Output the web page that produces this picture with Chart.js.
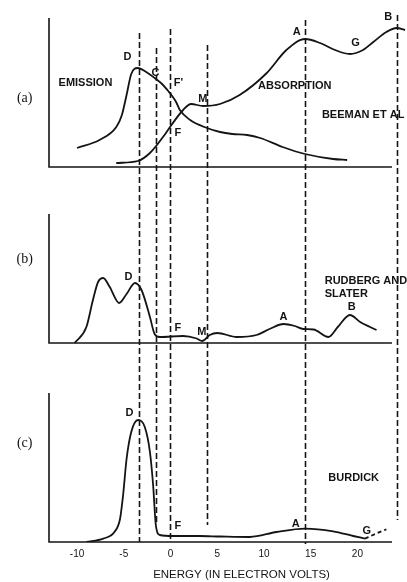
<!DOCTYPE html>
<html>
<head>
<meta charset="utf-8">
<script src="https://cdn.jsdelivr.net/npm/chart.js@4.4.1/dist/chart.umd.min.js"></script>
<style>
  html, body { margin: 0; padding: 0; background: #fff; }
</style>
</head>
<body>
<canvas id="myChart" width="407" height="582"></canvas>
<script>
// energy axis (eV)
var energyMin = -13;
var energyMax = 25.2;
var energyTicks = [-10, -5, 0, 5, 10, 15, 20];

// (a) Beeman et al - emission and absorption
var emissionX = [-10.0, -7.6, -5.8, -5.2, -4.7, -4.2, -3.5, -2.6, -1.7, -0.9, -0.25, 0.1, 0.6, 1.0, 2.1, 3.9, 5.3, 6.6, 8.2, 9.6, 12.0, 14.4, 17.4, 18.9];
var emissionY = [19, 27, 40, 52, 72, 93, 99, 95, 89, 83, 76, 72, 65, 57, 47, 39, 35, 33, 32, 29, 20, 13, 8, 7];
var absorptionX = [-5.8, -3.5, -2.2, -0.8, 0.1, 1.35, 2.2, 3.5, 5.3, 7.4, 10.3, 12.4, 14.4, 16.0, 17.6, 19.2, 20.6, 21.7, 23.1, 24.2, 25.1];
var absorptionY = [4, 6, 14, 30, 42, 57, 63, 61, 63, 72, 94, 117, 128, 124, 117, 113, 117, 125, 135, 139, 137];

// (b) Rudberg and Slater
var rudbergX = [-10.25, -9.0, -8.3, -7.75, -7.2, -6.5, -5.5, -4.7, -3.8, -3.1, -2.2, -1.7, -1.15, 1.35, 2.8, 3.4, 4.2, 5.0, 7.1, 9.2, 10.6, 12.1, 13.3, 14.2, 15.3, 16.9, 17.9, 19.2, 20.3, 22.05];
var rudbergY = [0, 16, 43, 61, 65, 56, 40, 49, 60, 53, 26, 9, 6, 7, 4.5, 2, 8, 10, 6, 8, 14, 19, 17, 14, 13.5, 6, 16, 28, 21, 13];

// (c) Burdick
var burdickX = [-9.0, -7.2, -6.0, -5.4, -5.07, -4.7, -4.2, -3.47, -2.75, -2.2, -1.86, -1.57, -1.15, 0.3, 3.1, 5.3, 8.5, 11.35, 14.4, 17.4, 19.55, 20.8];
var burdickY = [0, 3.4, 10, 23, 47, 83, 110, 122, 115, 90, 57, 17, 7, 6, 6, 5.5, 5, 10, 13.4, 10.7, 6, 3.4];
var burdickTailX = [20.8, 21.9, 23.1];
var burdickTailY = [3.4, 8, 12.7];

// dashed guide lines: energy, top (panel a units), bottom (panel c units)
var guideX = [-3.4, -1.55, 0, 3.9, 14.4, 24.2];
var guideTop = [134, 119, 138, 122, 147, 152];
var guideBottom = [0, 17, 0, 17, -2, 22];

var panelIds = ["ya", "yb", "yc"];
var axisTop = [149, 129, 149];
var baselineEnd = 23.7;

// text labels: text, energy, height, align
var labelsA = [["D", -4.6, 110], ["C", -1.6, 94], ["F'", 0.85, 84], ["M", 3.45, 68], ["F", 0.8, 34],
  ["A", 13.5, 135], ["G", 19.8, 124], ["B", 23.3, 150],
  ["EMISSION", -9.1, 84], ["ABSORPTION", 13.3, 81], ["BEEMAN ET AL", 16.2, 52, "left"]];
var labelsB = [["D", -4.5, 66], ["F", 0.8, 15], ["M", 3.35, 11], ["A", 12.1, 26], ["B", 19.4, 36],
  ["RUDBERG AND", 16.5, 62, "left"], ["SLATER", 16.5, 49, "left"]];
var labelsC = [["D", -4.4, 129], ["F", 0.8, 16], ["A", 13.4, 18], ["G", 21.0, 11], ["BURDICK", 19.6, 64]];
var panelTags = ["(a)", "(b)", "(c)"];
var panelTagY = [69, 84, 99];
var xTitle = "ENERGY (IN ELECTRON VOLTS)";

var ink = "#141414";

function points(xs, ys) {
  return xs.map(function (v, i) { return { x: v, y: ys[i] }; });
}

function curve(xs, ys, axis, dash) {
  return {
    data: points(xs, ys),
    yAxisID: axis,
    borderColor: ink,
    borderWidth: 1.8,
    borderDash: dash || [],
    pointRadius: 0,
    fill: false,
    cubicInterpolationMode: "monotone"
  };
}

var decor = {
  id: "decor",
  beforeDatasetsDraw: function (chart) {
    var ctx = chart.ctx;
    var x = chart.scales.x;
    var left = chart.chartArea.left;
    ctx.save();
    ctx.strokeStyle = ink;
    ctx.lineWidth = 1.6;
    panelIds.forEach(function (id, i) {
      var y = chart.scales[id];
      ctx.beginPath();
      ctx.moveTo(left, y.getPixelForValue(axisTop[i]));
      ctx.lineTo(left, y.getPixelForValue(0));
      ctx.lineTo(x.getPixelForValue(baselineEnd), y.getPixelForValue(0));
      ctx.stroke();
    });
    ctx.setLineDash([6, 3]);
    ctx.lineWidth = 1.6;
    guideX.forEach(function (g, i) {
      var px = Math.round(x.getPixelForValue(g)) + 0.5;
      ctx.beginPath();
      ctx.moveTo(px, chart.scales.ya.getPixelForValue(guideTop[i]));
      ctx.lineTo(px, chart.scales.yc.getPixelForValue(guideBottom[i]));
      ctx.stroke();
    });
    ctx.restore();
  },
  afterDatasetsDraw: function (chart) {
    var ctx = chart.ctx;
    var x = chart.scales.x;
    ctx.save();
    ctx.fillStyle = ink;
    ctx.textBaseline = "middle";
    ctx.font = "bold 11px 'Liberation Sans', Arial, sans-serif";
    [labelsA, labelsB, labelsC].forEach(function (list, i) {
      var y = chart.scales[panelIds[i]];
      list.forEach(function (l) {
        ctx.textAlign = l[3] || "center";
        ctx.fillText(l[0], x.getPixelForValue(l[1]), y.getPixelForValue(l[2]));
      });
    });
    ctx.font = "14px 'Liberation Serif', 'Times New Roman', serif";
    ctx.textAlign = "center";
    panelTags.forEach(function (t, i) {
      ctx.fillText(t, x.getPixelForValue(-15.6), chart.scales[panelIds[i]].getPixelForValue(panelTagY[i]));
    });
    ctx.font = "11.5px 'Liberation Sans', Arial, sans-serif";
    ctx.fillText(xTitle, x.getPixelForValue(7.6), x.bottom - 7);
    ctx.restore();
  }
};

var ctx = document.getElementById("myChart").getContext("2d");
var chart = new Chart(ctx, {
  type: "line",
  data: {
    datasets: [
      curve(emissionX, emissionY, "ya"),
      curve(absorptionX, absorptionY, "ya"),
      curve(rudbergX, rudbergY, "yb"),
      curve(burdickX, burdickY, "yc"),
      curve(burdickTailX, burdickTailY, "yc", [4, 3])
    ]
  },
  options: {
    responsive: false,
    animation: false,
    layout: { padding: { left: 49, right: 1, top: 0, bottom: 0 } },
    plugins: { legend: { display: false }, tooltip: { enabled: false } },
    scales: {
      x: {
        type: "linear",
        min: energyMin,
        max: energyMax,
        afterBuildTicks: function (s) {
          s.ticks = energyTicks.map(function (v) { return { value: v }; });
        },
        afterFit: function (s) { s.height = 40; },
        grid: { display: false, drawTicks: false },
        border: { display: false },
        ticks: {
          padding: 6,
          color: ink,
          font: { family: "'Liberation Sans', Arial, sans-serif", size: 10 },
          maxRotation: 0
        }
      },
      ya: { type: "linear", position: "left", stack: "panels", stackWeight: 190, weight: 3, min: -23, max: 167, display: false },
      yb: { type: "linear", position: "left", stack: "panels", stackWeight: 177, weight: 2, min: -24, max: 153, display: false },
      yc: { type: "linear", position: "left", stack: "panels", stackWeight: 175, weight: 1, min: 0, max: 175, display: false }
    }
  },
  plugins: [decor]
});
</script>
</body>
</html>
